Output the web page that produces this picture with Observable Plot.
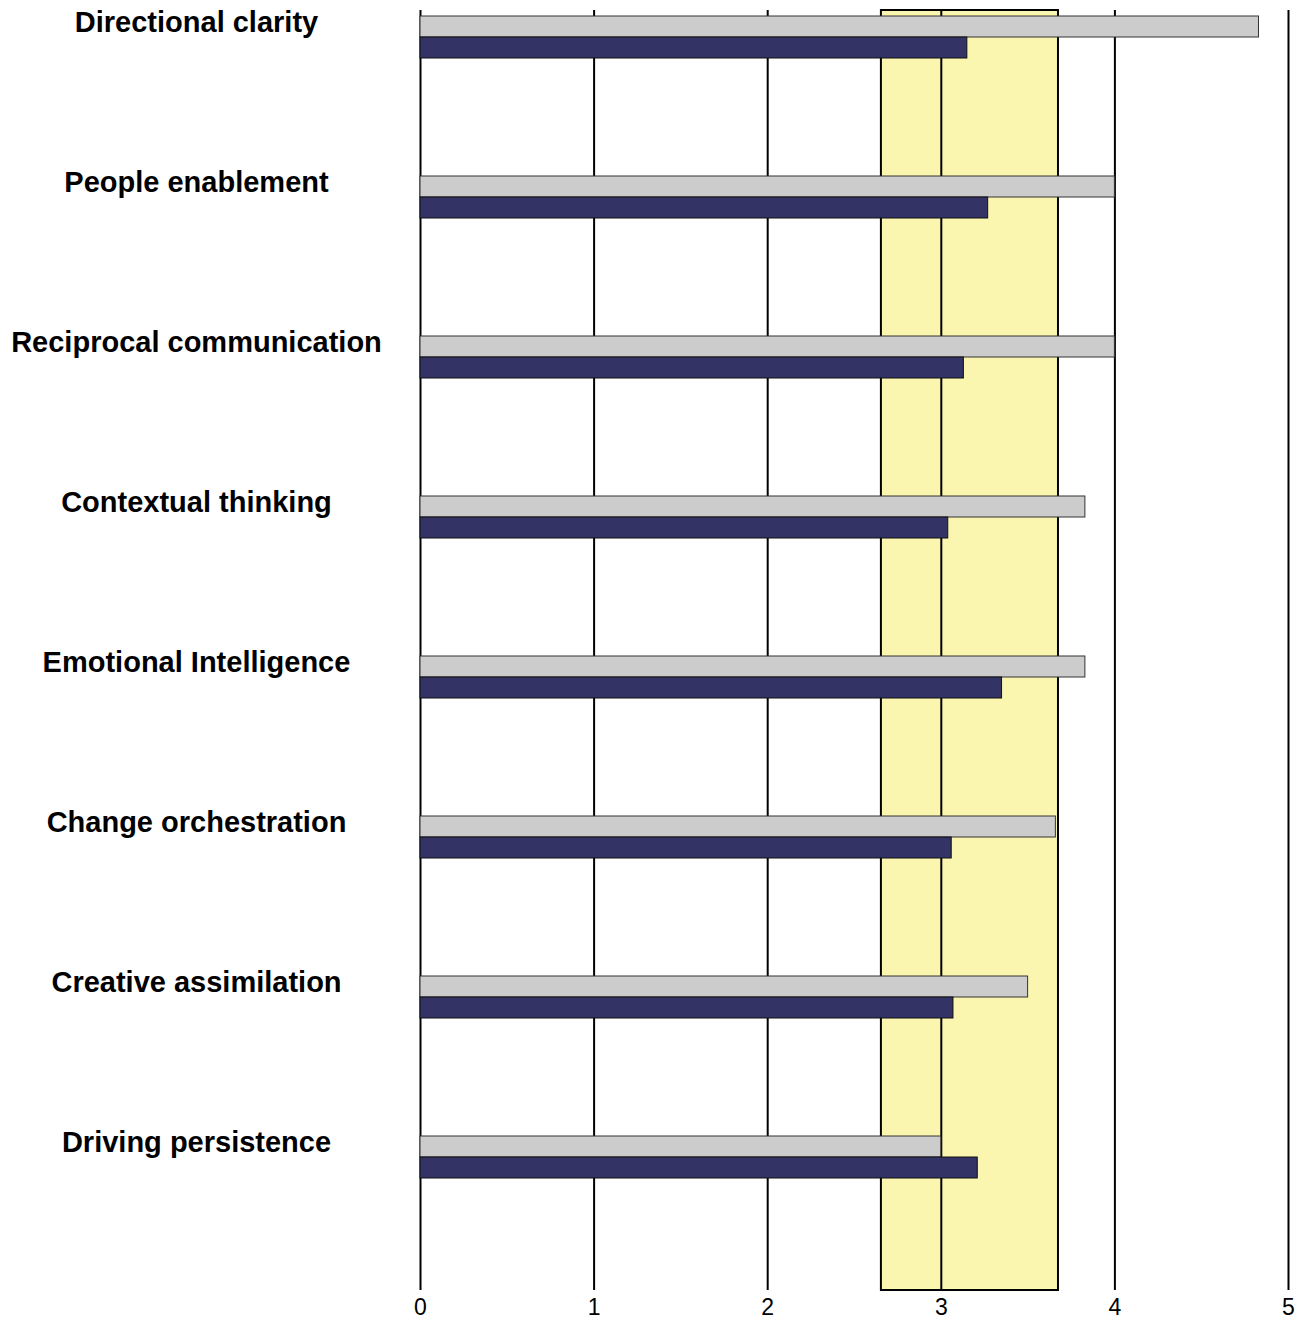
<!DOCTYPE html>
<html>
<head>
<meta charset="utf-8">
<script src="https://cdn.jsdelivr.net/npm/d3@7"></script>
<script src="https://cdn.jsdelivr.net/npm/@observablehq/plot@0.6"></script>
<style>
  html, body { margin: 0; padding: 0; background: #fff; }
  #chart svg { display: block; }
</style>
</head>
<body>
<div id="chart"></div>
<script>
const categories = [
  "Directional clarity",
  "People enablement",
  "Reciprocal communication",
  "Contextual thinking",
  "Emotional Intelligence",
  "Change orchestration",
  "Creative assimilation",
  "Driving persistence"
];
const grayValues = [4.83, 4.0, 4.0, 3.83, 3.83, 3.66, 3.5, 3.0];
const navyValues = [3.15, 3.27, 3.13, 3.04, 3.35, 3.06, 3.07, 3.21];
const bandRange = [2.655, 3.675];
const xTicks = [0, 1, 2, 3, 4, 5];

const rows = categories.map((c, i) => ({category: c, gray: grayValues[i], navy: navyValues[i]}));

const chart = Plot.plot({
  width: 1308,
  height: 1320,
  marginLeft: 420,
  marginRight: 20,
  marginTop: 10,
  marginBottom: 30,
  style: {fontFamily: "Liberation Sans, Arial, sans-serif", background: "#fff"},
  x: {domain: [0, 5], label: null},
  y: {domain: categories, padding: 0, axis: null},
  marks: [
    Plot.rect([bandRange], {x1: d => d[0], x2: d => d[1], fill: "#faf6b0", stroke: "#000", strokeWidth: 2}),
    Plot.ruleX(xTicks, {stroke: "#000", strokeWidth: 2}),
    Plot.barX(rows, {y: "category", x: "gray", fill: "#cccccc", stroke: "#333", strokeWidth: 1, insetTop: 6, insetBottom: 133}),
    Plot.barX(rows, {y: "category", x: "navy", fill: "#333366", stroke: "#111", strokeWidth: 1, insetTop: 27, insetBottom: 112}),
    Plot.text(rows, {y: "category", x: 0, text: "category", dx: -224, dy: -68, textAnchor: "middle", fontSize: 29, fontWeight: "bold", fill: "#000"}),
    Plot.axisX({ticks: xTicks, tickFormat: d3.format("d"), tickSize: 0, tickPadding: 8, fontSize: 23, label: null, fill: "#000"})
  ]
});
document.getElementById("chart").appendChild(chart);
</script>
</body>
</html>
